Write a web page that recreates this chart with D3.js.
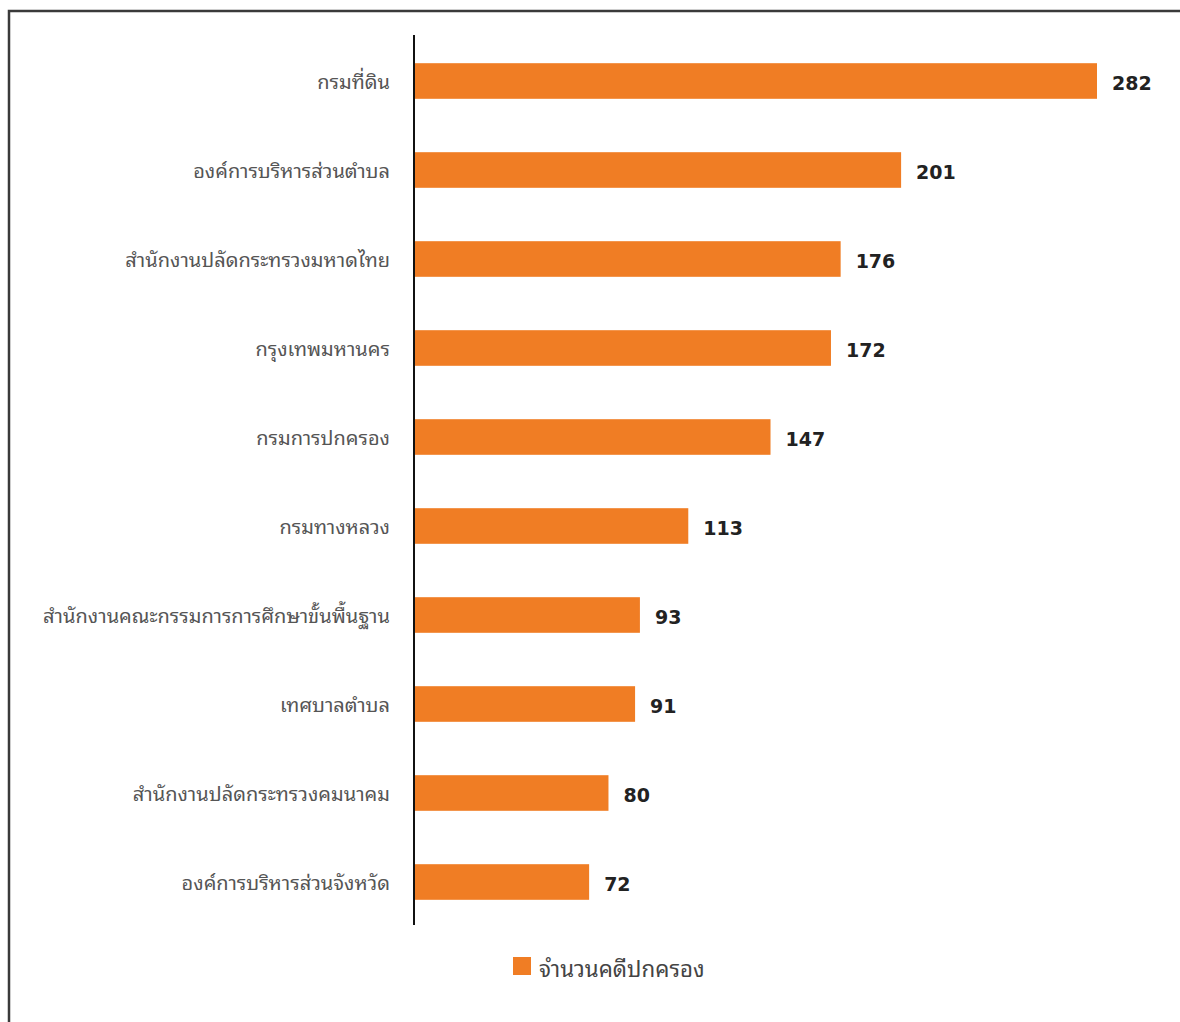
<!DOCTYPE html>
<html><head><meta charset="utf-8">
<script src="https://cdn.jsdelivr.net/npm/d3@7"></script>
<style>
html,body{margin:0;padding:0;background:#fff;}
svg{display:block;}
</style></head>
<body>
<svg id="chart" width="1180" height="1022"></svg>
<script>
const categories = ["กรมที่ดิน","องค์การบริหารส่วนตำบล","สำนักงานปลัดกระทรวงมหาดไทย","กรุงเทพมหานคร","กรมการปกครอง","กรมทางหลวง","สำนักงานคณะกรรมการการศึกษาขั้นพื้นฐาน","เทศบาลตำบล","สำนักงานปลัดกระทรวงคมนาคม","องค์การบริหารส่วนจังหวัด"];
const values = [282,201,176,172,147,113,93,91,80,72];
const seriesName = "จำนวนคดีปกครอง";

const svg = d3.select("#chart");
const font = "'Noto Sans Thai Looped','Noto Sans Thai','Noto Sans',Tahoma,'DejaVu Sans',sans-serif";
const orange = "#F07D24";

// frame
svg.append("rect").attr("x",9).attr("y",11).attr("width",1180).attr("height",1030)
  .attr("fill","none").attr("stroke","#3a3a3a").attr("stroke-width",2.5);

const x = d3.scaleLinear().domain([0,282]).range([415,1097]);
const y = d3.scaleBand().domain(categories).range([36.5,926.5]).paddingInner(0.6).paddingOuter(0.3);

svg.selectAll("rect.bar").data(values).join("rect").attr("class","bar")
  .attr("x",x(0)).attr("y",(d,i)=>y(categories[i]))
  .attr("width",d=>x(d)-x(0)).attr("height",y.bandwidth())
  .attr("fill",orange);

const yAxis = d3.axisLeft(y).tickSize(0).tickPadding(24);
const gy = svg.append("g").attr("transform",`translate(${x(0)-1},2)`).call(yAxis);
gy.select(".domain").remove();
gy.selectAll("text").attr("font-family",font).attr("font-size",20).attr("fill","#555");

svg.append("line").attr("x1",x(0)-1).attr("x2",x(0)-1).attr("y1",35).attr("y2",925)
  .attr("stroke","#111").attr("stroke-width",2);

svg.selectAll("text.val").data(values).join("text").attr("class","val")
  .attr("x",d=>x(d)+15).attr("y",(d,i)=>y(categories[i])+y.bandwidth()/2+2)
  .attr("dy","0.36em").attr("font-family","'DejaVu Sans',Verdana,sans-serif")
  .attr("font-weight","bold").attr("font-size",19).attr("fill","#222").text(d=>d);

// legend
const lg = svg.append("g").attr("transform","translate(513,957)");
lg.append("rect").attr("width",18).attr("height",18).attr("fill",orange);
lg.append("text").attr("x",26).attr("y",12).attr("dy","0.35em").attr("font-family",font)
  .attr("font-size",22.3).attr("fill","#444").text(seriesName);
</script>
</body></html>
